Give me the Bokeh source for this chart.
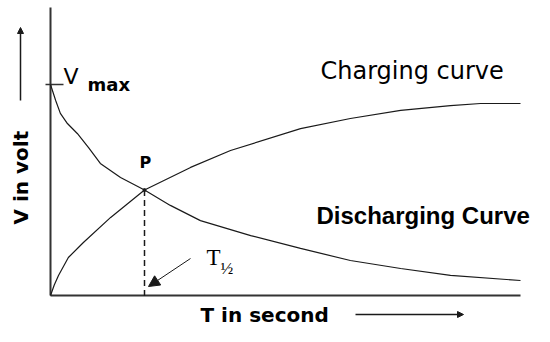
import math
from bokeh.plotting import figure
from bokeh.models import Range1d, Label, Arrow, NormalHead
from bokeh.embed import file_html
from bokeh.resources import INLINE

# ---- data (time and voltage in % of full scale) ----
t_charge = [0, 0.8, 1.7, 3.8, 7.0, 12.8, 20.0, 29.8, 38.3, 53.2, 63.8, 74.5, 85.1, 91.5, 100]
v_charge = [0, 5.0, 9.5, 18.0, 25.1, 37.0, 50.0, 60.7, 68.7, 79.1, 83.9, 87.7, 90.0, 91.0, 91.0]
t_discharge = [0, 1.1, 2.1, 3.6, 5.7, 8.1, 10.6, 14.9, 20.0, 25.5, 31.9, 42.6, 53.2, 63.8, 74.5, 85.1, 100]
v_discharge = [100, 92.4, 86.3, 81.5, 76.8, 70.1, 62.6, 55.9, 50.0, 42.7, 35.5, 28.4, 22.3, 16.6, 12.8, 9.5, 7.1]
v_max = 100
t_half = 20.0
v_half = 50.0
t_end = 100

# ---- layout ----
W, H = 534, 326
OX, OY = 50, 295          # origin in picture pixels
SX, SY = 4.7, 2.11        # pixels per data unit
SHIFT = 0.33              # baseline correction (em)

def tx(px):
    return (px - OX) / SX

def vy(py):
    return (OY - py) / SY

x0, x1 = tx(0), tx(W)
y0, y1 = vy(H), vy(0)

p = figure(width=W, height=H, output_backend="svg", toolbar_location=None,
           x_axis_type=None, y_axis_type=None,
           x_range=Range1d(x0, x1), y_range=Range1d(y0, y1),
           min_border=0)
p.outline_line_color = None
p.background_fill_color = "white"
p.border_fill_color = "white"

ink = "#1a1a1a"
axis_col = "#333333"

# axes
p.line([0, t_end], [0, 0], line_color=axis_col, line_width=2)
p.line([0, 0], [0, vy(7)], line_color=axis_col, line_width=2)
# Vmax tick
p.line([tx(45), tx(63)], [v_max, v_max], line_color=axis_col, line_width=1.5)

# curves
p.line(t_discharge, v_discharge, line_color=ink, line_width=1.2)
p.line(t_charge, v_charge, line_color=ink, line_width=1.2)

# half-time dashed line
p.line([t_half, t_half], [v_half, vy(299)], line_color=ink, line_width=1.5, line_dash="6 4")
p.scatter([t_half], [v_half], size=3, color=ink)

# T1/2 arrow
p.add_layout(Arrow(end=NormalHead(size=11, fill_color=ink, line_color=ink),
                   x_start=tx(190), y_start=vy(258), x_end=tx(148), y_end=vy(286),
                   line_color=ink, line_width=1))

# axis label arrows
p.add_layout(Arrow(end=NormalHead(size=6, fill_color=ink, line_color=ink),
                   x_start=tx(20), y_start=vy(100), x_end=tx(20), y_end=vy(27),
                   line_color=ink, line_width=1.5))
p.add_layout(Arrow(end=NormalHead(size=6, fill_color=ink, line_color=ink),
                   x_start=tx(355), y_start=vy(314), x_end=tx(463), y_end=vy(314),
                   line_color=ink, line_width=1.5))

def lab(text, px, py, font, size, style="normal", rotated=False):
    d = SHIFT * size
    if rotated:
        x, y, ang = tx(px - d), vy(py), math.pi / 2
    else:
        x, y, ang = tx(px), vy(py - d), 0
    p.add_layout(Label(x=x, y=y, text=text, text_font=font, text_font_size=f"{size}px",
                       text_font_style=style, text_align="left", text_baseline="alphabetic",
                       text_color="black", angle=ang))

lab("Charging curve", 320, 78, "DejaVu Sans", 24)
lab("Discharging Curve", 316, 223, "Liberation Sans", 24, "bold")
lab("T in second", 200, 321, "DejaVu Sans", 20, "bold")
lab("V in volt", 27, 224, "DejaVu Sans", 20, "bold", rotated=True)
lab("V", 63, 83, "DejaVu Sans", 22)
lab("max", 87, 90, "DejaVu Sans", 18, "bold")
lab("P", 139, 167, "DejaVu Sans", 16, "bold")
lab("T", 206, 265, "Liberation Serif", 23)
lab("\u00bd", 220, 274, "Liberation Serif", 17)

open("out.html", "w").write(file_html(p, INLINE))
